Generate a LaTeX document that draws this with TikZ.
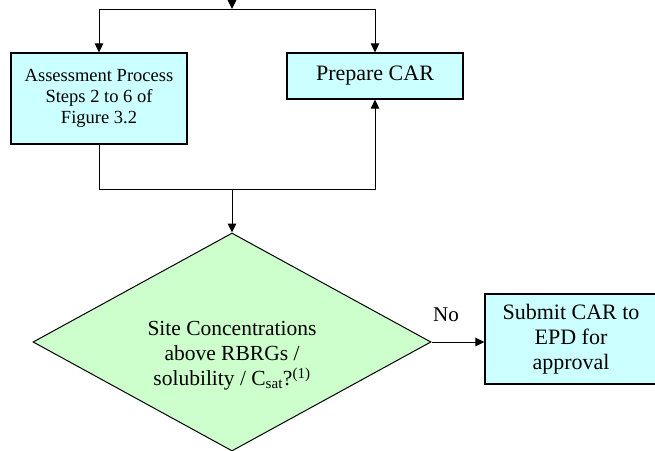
\documentclass[tikz,border=0pt]{standalone}
\usepackage{fontspec}
\setmainfont{Liberation Serif}
\usetikzlibrary{shapes.geometric,arrows.meta}
\definecolor{boxcyan}{HTML}{CCFFFF}
\definecolor{boxgreen}{HTML}{CCFFCC}
\begin{document}
\begin{tikzpicture}
[x=1pt,y=-1pt,
	procbox/.style={draw,fill=boxcyan,line width=1.2pt,align=center,inner sep=0pt},
	decision/.style={draw,fill=boxgreen,diamond,line width=1pt,inner sep=0pt,minimum width=398pt,minimum height=218pt},
	flow/.style={line width=1pt,-{Triangle[length=9pt,width=8.5pt]}},
	link/.style={line width=1pt}]
\useasboundingbox (0,0) rectangle (655,450);

\node[procbox,minimum width=176pt,minimum height=91pt,font=\fontsize{18.5}{21}\selectfont] (assess) at (99,98.5) {Assessment Process\\Steps 2 to 6 of\\Figure 3.2};
\node[procbox,minimum width=176pt,minimum height=46pt,font=\fontsize{22}{25}\selectfont] (prep) at (375,76) {Prepare CAR};
\node[decision] (decide) at (232,342) {};
\node[font=\fontsize{21.5}{25}\selectfont,align=center,yshift=-14pt] (decidetext) at (decide.center) {Site Concentrations\\above RBRGs /\\solubility / C\textsubscript{sat}?\textsuperscript{(1)}};
\node[procbox,minimum width=172pt,minimum height=90pt,font=\fontsize{22}{25}\selectfont] (submit) at (571,339) {Submit CAR to\\EPD for\\approval};

\coordinate (top) at (232,-15);
\coordinate (split) at (232,9);
\coordinate (join) at (232,189);
\draw[flow] (top) -- (split);
\draw[flow] (split) -| (assess.north);
\draw[flow] (split) -| (prep.north);
\draw[link] (assess.south) |- (join);
\draw[flow] (join) -| (prep.south);
\draw[flow] (join) -- (decide.north);
\draw[flow] (decide.east) -- (decide.east -| submit.west) node[midway,above=16pt,xshift=-12pt,font=\fontsize{21}{25}\selectfont] (no) {No};
\end{tikzpicture}
\end{document}
